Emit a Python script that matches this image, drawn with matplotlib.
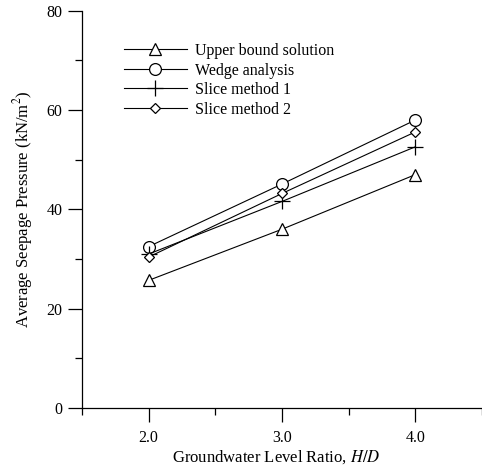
import matplotlib
matplotlib.use('Agg')
import matplotlib.pyplot as plt
from matplotlib.ticker import MultipleLocator


# Groundwater level ratio H/D and average seepage pressure (kN/m2) for each method
ratio = [2.0, 3.0, 4.0]
upper_bound = [25.7, 36.0, 47.0]
wedge = [32.5, 45.1, 58.0]
slice_1 = [31.0, 41.6, 52.6]
slice_2 = [30.4, 43.2, 55.6]

x_ticks = [2.0, 3.0, 4.0]
x_tick_labels = ['2.0', '3.0', '4.0']
y_ticks = [0, 20, 40, 60, 80]

plt.rcParams['font.family'] = ['Liberation Serif', 'DejaVu Serif']
plt.rcParams['mathtext.fontset'] = 'stix'

fig = plt.figure(figsize=(4.82, 4.70), dpi=100)
ax = fig.add_axes([0.170, 0.132, 0.83, 0.845])

style = dict(color='black', lw=0.8, mfc='white', mec='black', mew=0.9)
ax.plot(ratio, upper_bound, marker='^', ms=8.5, label='Upper bound solution', **style)
ax.plot(ratio, wedge, marker='o', ms=8.5, label='Wedge analysis', **style)
ax.plot(ratio, slice_1, marker='+', ms=11, label='Slice method 1', **style)
ax.plot(ratio, slice_2, marker='D', ms=5.5, label='Slice method 2', **style)

ax.set_xlim(1.5, 4.5)
ax.set_ylim(0, 80)
ax.set_xticks(x_ticks)
ax.set_xticklabels(x_tick_labels)
ax.set_yticks(y_ticks)
ax.xaxis.set_minor_locator(MultipleLocator(0.5))
ax.yaxis.set_minor_locator(MultipleLocator(10))
ax.tick_params(axis='both', which='major', direction='out', length=10, width=0.9,
               labelsize=11.5)
ax.tick_params(axis='x', which='major', pad=6)
ax.tick_params(axis='y', which='major', pad=4)
ax.tick_params(axis='both', which='minor', direction='out', length=5, width=0.9)

for side in ['top', 'right']:
    ax.spines[side].set_visible(False)
ax.spines['left'].set_linewidth(0.9)
ax.spines['bottom'].set_linewidth(0.9)

ax.set_xlabel('Groundwater Level Ratio, $\\mathit{H/D}$', fontsize=12)
ax.xaxis.set_label_coords(0.485, -0.102)
ax.set_ylabel('Average Seepage Pressure (kN/m$^2$)', fontsize=12, labelpad=8)

ax.legend(loc='upper left', bbox_to_anchor=(0.068, 0.955), frameon=False,
          fontsize=11.5, handlelength=4.0, handletextpad=0.45, labelspacing=0.22)

fig.savefig('out.png', dpi=100)
